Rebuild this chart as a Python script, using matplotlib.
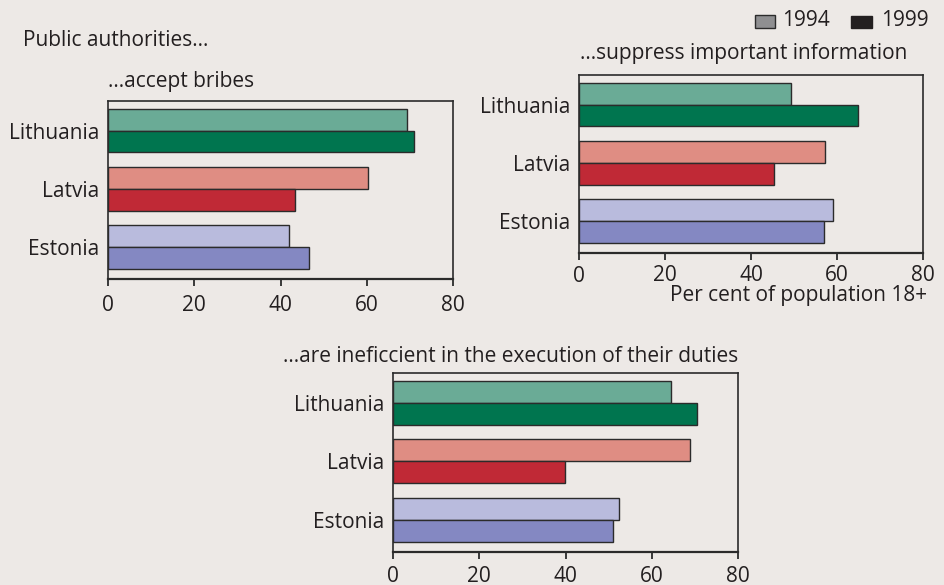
import matplotlib
matplotlib.use("Agg")
import matplotlib.pyplot as plt
import matplotlib.transforms as mtransforms
from matplotlib.patches import Rectangle

plt.rcParams['font.family'] = ['Open Sans', 'DejaVu Sans']

# data (per cent of population 18+)
countries = ["Estonia", "Latvia", "Lithuania"]
bribes_1994 = [42.0, 60.2, 69.3]
bribes_1999 = [46.6, 43.3, 71.0]
suppress_1994 = [59.0, 57.2, 49.4]
suppress_1999 = [56.9, 45.3, 64.8]
ineff_1994 = [52.3, 68.9, 64.4]
ineff_1999 = [51.0, 39.9, 70.6]
xticks = [0, 20, 40, 60, 80]

light_cols = ["#b9bbdd", "#df8d83", "#6aab96"]
dark_cols = ["#8488c2", "#c02936", "#00754f"]
bg = "#ede9e6"
ink = "#231f20"
fs = 15
W, H = 944, 585

fig = plt.figure(figsize=(W / 100, H / 100), dpi=100, facecolor=bg)


def px_axes(left, top, right, bottom):
    return fig.add_axes([left / W, 1 - bottom / H, (right - left) / W, (bottom - top) / H])


def draw_panel(ax, v94, v99, xpad):
    ax.set_facecolor(bg)
    ypos = list(range(len(countries)))
    h = 0.375
    ax.barh([y + h / 2 for y in ypos], v94, height=h, color=light_cols,
            edgecolor="#2b2b2b", linewidth=1.0)
    ax.barh([y - h / 2 for y in ypos], v99, height=h, color=dark_cols,
            edgecolor="#2b2b2b", linewidth=1.0)
    ax.set_xlim(0, 80)
    ax.set_ylim(-0.55, 2.51)
    ax.set_yticks(ypos)
    ax.set_yticklabels(countries, fontsize=fs, color=ink)
    ax.tick_params(axis="y", length=0, pad=6)
    ax.set_xticks(xticks)
    ax.set_xticklabels([str(t) for t in xticks], fontsize=fs, color=ink)
    ax.tick_params(axis="x", direction="out", length=5, width=1.3, color="#2b2b2b", pad=xpad)
    for s in ax.spines.values():
        s.set_color("#2b2b2b")
        s.set_linewidth(1.2)
    ax.spines["bottom"].set_linewidth(1.6)


ax1 = px_axes(108, 101, 453, 279)
draw_panel(ax1, bribes_1994, bribes_1999, 6.3)

ax2 = px_axes(579, 75, 923, 253)
draw_panel(ax2, suppress_1994, suppress_1999, 3.4)
# the "0" on this panel sits a bit lower than the other tick labels
labs = [str(t) for t in xticks]
labs[0] = ""
ax2.set_xticklabels(labs, fontsize=fs, color=ink)
ax2.text(0, -0.13, "0", transform=mtransforms.blended_transform_factory(ax2.transData, ax2.transAxes),
         ha="center", va="center", fontsize=fs, color=ink)

ax3 = px_axes(393, 373, 738, 552)
draw_panel(ax3, ineff_1994, ineff_1999, 4.9)

# texts
fig.text(23 / W, 1 - 40 / H, "Public authorities...", fontsize=fs, color=ink, ha="left", va="center")
fig.text(108 / W, 1 - 82 / H, "...accept bribes", fontsize=fs, color=ink, ha="left", va="center")
fig.text(580 / W, 1 - 54 / H, "...suppress important information", fontsize=fs, color=ink,
         ha="left", va="center")
fig.text(738 / W, 1 - 356 / H, "...are ineficcient in the execution of their duties", fontsize=fs,
         color=ink, ha="right", va="center")
fig.text(927 / W, 1 - 295 / H, "Per cent of population 18+", fontsize=fs, color=ink,
         ha="right", va="center")

# legend
fig.patches.append(Rectangle((755 / W, 1 - 27.5 / H), 20 / W, 12 / H, transform=fig.transFigure,
                             facecolor="#8f8f91", edgecolor="#2b2b2b", linewidth=1.0))
fig.text(782 / W, 1 - 20 / H, "1994", fontsize=fs, color=ink, ha="left", va="center")
fig.patches.append(Rectangle((851 / W, 1 - 27.5 / H), 21 / W, 11.5 / H, transform=fig.transFigure,
                             facecolor="#231f20", edgecolor="#231f20", linewidth=1.0))
fig.text(881 / W, 1 - 20 / H, "1999", fontsize=fs, color=ink, ha="left", va="center")

fig.savefig("out.png", dpi=100, facecolor=bg)
